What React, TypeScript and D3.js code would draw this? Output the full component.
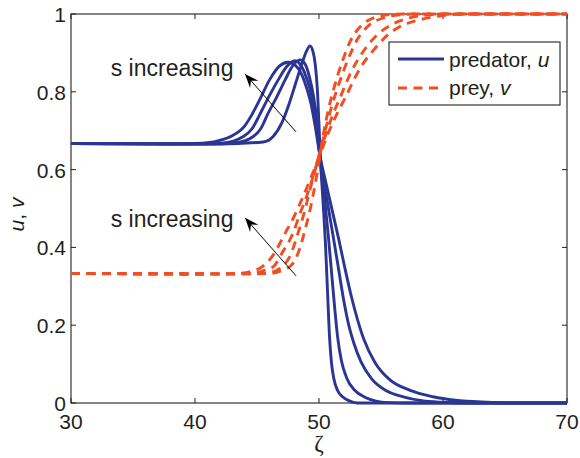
import React from 'react';
import * as d3 from 'd3';

type Pt = [number, number];

const xTicks = [30, 40, 50, 60, 70];
const yTicks = [0, 0.2, 0.4, 0.6, 0.8, 1];
const yTickLabels = ['0', '0.2', '0.4', '0.6', '0.8', '1'];

// predator u, four values of s (1 = largest s)
const predator1: Pt[] = [[30,0.667],[38,0.666],[39.8,0.667],[41,0.669],[42,0.675],[43,0.687],[44,0.712],[44.6,0.742],[45.3,0.785],[46.0,0.83],[46.8,0.866],[47.5,0.876],[48.1,0.868],[48.6,0.845],[49.0,0.81],[49.35,0.77],[49.7,0.71],[50.08,0.635],[50.6,0.56],[51.1,0.49],[51.6,0.42],[52.1,0.345],[52.6,0.275],[53.1,0.215],[53.6,0.165],[54.5,0.105],[55.7,0.06],[57.3,0.033],[59.2,0.016],[61,0.007],[63.5,0.002],[66,0],[70,0]];
const predator2: Pt[] = [[30,0.667],[40,0.666],[42.2,0.668],[43.9,0.685],[44.6,0.705],[45.2,0.74],[46.0,0.79],[46.7,0.83],[47.4,0.865],[48.06,0.88],[48.6,0.865],[49.0,0.835],[49.4,0.79],[49.75,0.72],[50.08,0.635],[50.5,0.55],[51.0,0.455],[51.5,0.36],[51.96,0.27],[52.4,0.2],[52.8,0.155],[53.4,0.105],[54.25,0.062],[55.4,0.032],[56.8,0.016],[58.3,0.006],[59.8,0.002],[62,0],[70,0]];
const predator3: Pt[] = [[30,0.667],[41,0.666],[43.3,0.669],[44.7,0.685],[45.3,0.705],[45.9,0.745],[46.6,0.787],[47.26,0.83],[47.9,0.868],[48.47,0.882],[48.9,0.87],[49.25,0.835],[49.55,0.79],[49.85,0.72],[50.08,0.635],[50.3,0.57],[50.5,0.51],[50.75,0.43],[51.0,0.34],[51.25,0.25],[51.5,0.17],[51.8,0.11],[52.25,0.063],[52.9,0.032],[53.7,0.015],[54.6,0.005],[55.5,0.001],[57,0],[70,0]];
const predator4: Pt[] = [[30,0.667],[42,0.666],[45.5,0.671],[46.3,0.685],[47,0.72],[47.6,0.77],[48.1,0.82],[48.6,0.87],[49.0,0.905],[49.27,0.918],[49.5,0.905],[49.7,0.87],[49.88,0.8],[50.02,0.7],[50.12,0.62],[50.25,0.555],[50.38,0.49],[50.52,0.41],[50.67,0.3],[50.85,0.17],[51.0,0.105],[51.2,0.062],[51.5,0.032],[51.9,0.016],[52.4,0.006],[53.1,0],[70,0]];

// prey v, four values of s
const prey1: Pt[] = [[30,0.333],[40,0.331],[43,0.332],[44.5,0.338],[45.4,0.35],[46.3,0.38],[47.26,0.436],[48.0,0.48],[48.5,0.515],[49.3,0.575],[50.0,0.632],[50.7,0.69],[51.4,0.74],[52.2,0.79],[52.8,0.83],[53.4,0.865],[54.4,0.907],[55.5,0.945],[56.5,0.967],[58.1,0.985],[60,0.996],[62,1],[70,1]];
const prey2: Pt[] = [[30,0.333],[42,0.332],[44.5,0.333],[45.5,0.34],[46.3,0.35],[47.1,0.39],[47.9,0.436],[48.5,0.49],[48.9,0.522],[49.5,0.58],[50.0,0.635],[50.6,0.695],[51.1,0.74],[51.7,0.785],[52.5,0.845],[53.6,0.905],[54.65,0.945],[56.0,0.975],[57.3,0.99],[59,0.998],[61,1],[70,1]];
const prey3: Pt[] = [[30,0.333],[43,0.332],[45.5,0.333],[46.5,0.34],[47.0,0.35],[47.7,0.38],[48.3,0.436],[48.9,0.5],[49.3,0.552],[49.7,0.6],[50.1,0.65],[50.5,0.7],[51.0,0.76],[51.6,0.82],[52.3,0.88],[53.1,0.935],[54.0,0.97],[55.2,0.99],[56.5,0.998],[58,1],[70,1]];
const prey4: Pt[] = [[30,0.333],[44,0.332],[46,0.333],[47,0.34],[47.8,0.355],[48.5,0.402],[48.8,0.436],[49.5,0.53],[50.0,0.62],[50.35,0.69],[50.8,0.76],[51.3,0.82],[51.9,0.88],[52.6,0.935],[53.4,0.97],[54.4,0.99],[55.5,0.998],[57,1],[70,1]];

const predatorSeries = [predator1, predator2, predator3, predator4];
const preySeries = [prey1, prey2, prey3, prey4];

const legendLabels = ['predator, ', 'prey, '];
const legendVars = ['u', 'v'];
const annotationText = 's increasing';

const W = 580;
const H = 458;
const BLUE = '#2b3593';
const RED = '#f04e23';
const INK = '#231f20';
const FONT = '"Liberation Sans", Arial, Helvetica, sans-serif';

export default function App() {
  const left = 71, right = 567, top = 14, bottom = 403;
  const x = d3.scaleLinear().domain([30, 70]).range([left, right]);
  const y = d3.scaleLinear().domain([0, 1]).range([bottom, top]);
  const line = d3.line<Pt>().x(d => x(d[0])).y(d => y(d[1])).curve(d3.curveMonotoneX);

  const arrows: { from: Pt; to: Pt; text: Pt }[] = [
    { from: [48.15, 0.697], to: [44.03, 0.846], text: [43.1, 0.84] },
    { from: [48.15, 0.327], to: [44.03, 0.476], text: [43.1, 0.452] },
  ];

  const arrowHead = (fx: number, fy: number, tx: number, ty: number) => {
    const dx = tx - fx, dy = ty - fy;
    const len = Math.hypot(dx, dy);
    const ux = dx / len, uy = dy / len;
    const px = -uy, py = ux;
    const L = 14, Wd = 5.5, N = 9;
    const bx = tx - ux * L, by = ty - uy * L;
    const nx = tx - ux * N, ny = ty - uy * N;
    return `${tx},${ty} ${bx + px * Wd},${by + py * Wd} ${nx},${ny} ${bx - px * Wd},${by - py * Wd}`;
  };

  return (
    <div style={{ position: 'fixed', left: 0, top: 0, width: W, height: H, background: '#fff' }}>
      <svg width={W} height={H} style={{ display: 'block' }} fontFamily={FONT}>
        <rect x={0} y={0} width={W} height={H} fill="#fff" />
        {/* axes box */}
        <rect x={left} y={top} width={right - left} height={bottom - top} fill="none" stroke={INK} strokeWidth={1.1} />
        {xTicks.map(t => (
          <g key={'xt' + t}>
            <line x1={x(t)} x2={x(t)} y1={bottom} y2={bottom - 5} stroke={INK} strokeWidth={1} />
            <line x1={x(t)} x2={x(t)} y1={top} y2={top + 5} stroke={INK} strokeWidth={1} />
            <text x={x(t)} y={bottom + 26} textAnchor="middle" fontSize={21} fill={INK}>{t}</text>
          </g>
        ))}
        {yTicks.map((t, i) => (
          <g key={'yt' + t}>
            <line x1={left} x2={left + 5} y1={y(t)} y2={y(t)} stroke={INK} strokeWidth={1} />
            <line x1={right} x2={right - 5} y1={y(t)} y2={y(t)} stroke={INK} strokeWidth={1} />
            <text x={left - 5} y={y(t) + 8} textAnchor="end" fontSize={21} fill={INK}>{yTickLabels[i]}</text>
          </g>
        ))}
        {/* axis labels */}
        <text x={x(50)} y={451} textAnchor="middle" fontSize={23} fontFamily='"Liberation Serif", "DejaVu Serif", serif' fill={INK}>ζ</text>
        <text transform={`translate(24,${(top + bottom) / 2 + 6}) rotate(-90)`} textAnchor="middle" fontSize={21} fill={INK}>
          <tspan fontStyle="italic">u</tspan>, <tspan fontStyle="italic">v</tspan>
        </text>

        {/* curves */}
        {predatorSeries.map((s, i) => (
          <path key={'p' + i} d={line(s) || ''} fill="none" stroke={BLUE} strokeWidth={2.9} strokeLinejoin="round" />
        ))}
        {preySeries.map((s, i) => (
          <path key={'v' + i} d={line(s) || ''} fill="none" stroke={RED} strokeWidth={2.9} strokeDasharray="9,6.5" />
        ))}

        {/* annotations */}
        {arrows.map((a, i) => {
          const fx = x(a.from[0]), fy = y(a.from[1]), tx = x(a.to[0]), ty = y(a.to[1]);
          return (
            <g key={'a' + i}>
              <line x1={fx} y1={fy} x2={tx} y2={ty} stroke="#000" strokeWidth={1} />
              <polygon points={arrowHead(fx, fy, tx, ty)} fill="#000" />
              <text x={x(a.text[0])} y={y(a.text[1])} textAnchor="end" fontSize={23} fill={INK}>{annotationText}</text>
            </g>
          );
        })}

        {/* legend */}
        <rect x={389} y={42} width={171} height={63} fill="#fff" stroke={INK} strokeWidth={1.1} />
        <line x1={398} x2={444} y1={59} y2={59} stroke={BLUE} strokeWidth={2.9} />
        <line x1={398} x2={444} y1={88} y2={88} stroke={RED} strokeWidth={2.9} strokeDasharray="9,6.5" />
        <text x={449} y={66.5} fontSize={21} fill={INK}>{legendLabels[0]}<tspan fontStyle="italic">{legendVars[0]}</tspan></text>
        <text x={449} y={95} fontSize={21} fill={INK}>{legendLabels[1]}<tspan fontStyle="italic">{legendVars[1]}</tspan></text>
      </svg>
    </div>
  );
}
